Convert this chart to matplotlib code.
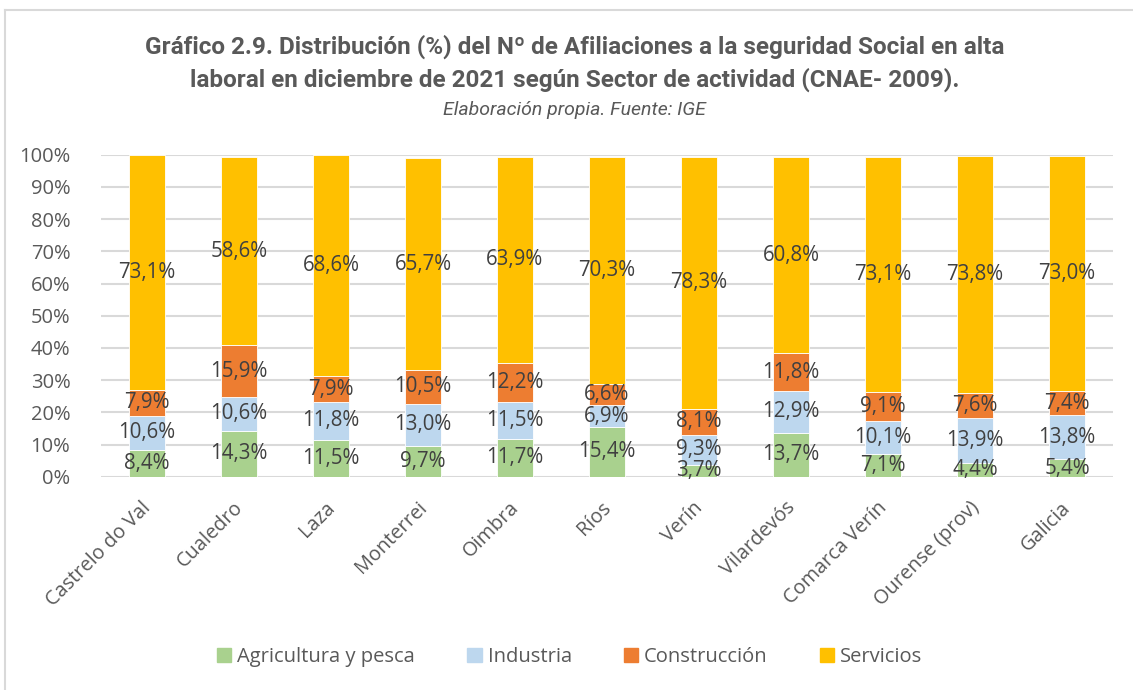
import matplotlib
matplotlib.use("Agg")
import matplotlib.pyplot as plt
import matplotlib.transforms as mtransforms
import numpy as np
from matplotlib.lines import Line2D

plt.rcParams['font.family'] = ['Open Sans', 'DejaVu Sans']

# datos (% de afiliaciones por sector)
municipios = ['Castrelo do Val', 'Cualedro', 'Laza', 'Monterrei', 'Oimbra', 'Ríos',
              'Verín', 'Vilardevós', 'Comarca Verín', 'Ourense (prov)', 'Galicia']
agricultura = [8.4, 14.3, 11.5, 9.7, 11.7, 15.4, 3.7, 13.7, 7.1, 4.4, 5.4]
industria = [10.6, 10.6, 11.8, 13.0, 11.5, 6.9, 9.3, 12.9, 10.1, 13.9, 13.8]
construccion = [7.9, 15.9, 7.9, 10.5, 12.2, 6.6, 8.1, 11.8, 9.1, 7.6, 7.4]
servicios = [73.1, 58.6, 68.6, 65.7, 63.9, 70.3, 78.3, 60.8, 73.1, 73.8, 73.0]

sectores = ['Agricultura y pesca', 'Industria', 'Construcción', 'Servicios']
series = [agricultura, industria, construccion, servicios]
colores = ['#A9D18E', '#BDD7EE', '#ED7D31', '#FFC000']

fig = plt.figure(figsize=(11.33, 6.9), dpi=100)
ax = fig.add_axes([0.0891, 0.309, 0.8932, 0.4667])

# marco del grafico
fig.add_artist(Line2D([5/1133, 5/1133], [0, 1-10/690], color='#D9D9D9', lw=1.5, transform=fig.transFigure))
fig.add_artist(Line2D([5/1133, 1], [1-10/690, 1-10/690], color='#D9D9D9', lw=1.5, transform=fig.transFigure))

x = np.arange(len(municipios))
base = np.zeros(len(municipios))
for vals, col in zip(series, colores):
    v = np.array(vals)
    ax.bar(x, v, 0.4, bottom=base, color=col, edgecolor='white', linewidth=0.6, zorder=3)
    for xi, b, h in zip(x, base, v):
        ax.text(xi, b + h/2, ('%.1f%%' % h).replace('.', ','), ha='center', va='center',
                fontsize=14.8, color='#404040', zorder=4)
    base = base + v

ax.set_xlim(-0.5, len(municipios) - 0.5)
ax.set_ylim(0, 100)
ax.set_yticks(np.arange(0, 101, 10))
ax.set_yticklabels(['%d%%' % t for t in range(0, 101, 10)], fontsize=14.5, color='#595959')
ax.yaxis.grid(True, color='#D9D9D9', lw=1.5, zorder=0)
ax.set_axisbelow(True)
for s in ax.spines.values():
    s.set_visible(False)
ax.tick_params(axis='both', length=0)
ax.tick_params(axis='y', pad=22)
ax.set_xticks(x)
ax.set_xticklabels(municipios, rotation=45, ha='right', rotation_mode='anchor',
                   fontsize=14.3, color='#595959')
ax.tick_params(axis='x', pad=15)
offset = mtransforms.ScaledTranslation(-6/100, 0, fig.dpi_scale_trans)
for lbl in ax.get_xticklabels():
    lbl.set_transform(lbl.get_transform() + offset)

tfam = ['Liberation Sans Narrow', 'Roboto', 'DejaVu Sans']
fig.text(0.507, 1-47/690, 'Gráfico 2.9. Distribución (%) del Nº de Afiliaciones a la seguridad Social en alta',
         ha='center', va='center', fontsize=17.5, fontweight='bold', color='#595959', family=tfam)
fig.text(0.507, 1-80/690, 'laboral en diciembre de 2021 según Sector de actividad (CNAE- 2009).',
         ha='center', va='center', fontsize=17.5, fontweight='bold', color='#595959', family=tfam)
fig.text(0.507, 1-110/690, 'Elaboración propia. Fuente: IGE', ha='center', va='center',
         fontsize=14, style='italic', color='#595959', family=tfam)

handles = [plt.Rectangle((0, 0), 1, 1, color=c) for c in colores]
fig.legend(handles, sectores, loc='center', bbox_to_anchor=(0.503, 1-657/690), ncol=4,
           frameon=False, fontsize=14.5, handlelength=0.7, handleheight=0.7,
           columnspacing=2.6, handletextpad=0.3, labelcolor='#595959')

fig.savefig('out.png', dpi=100)
